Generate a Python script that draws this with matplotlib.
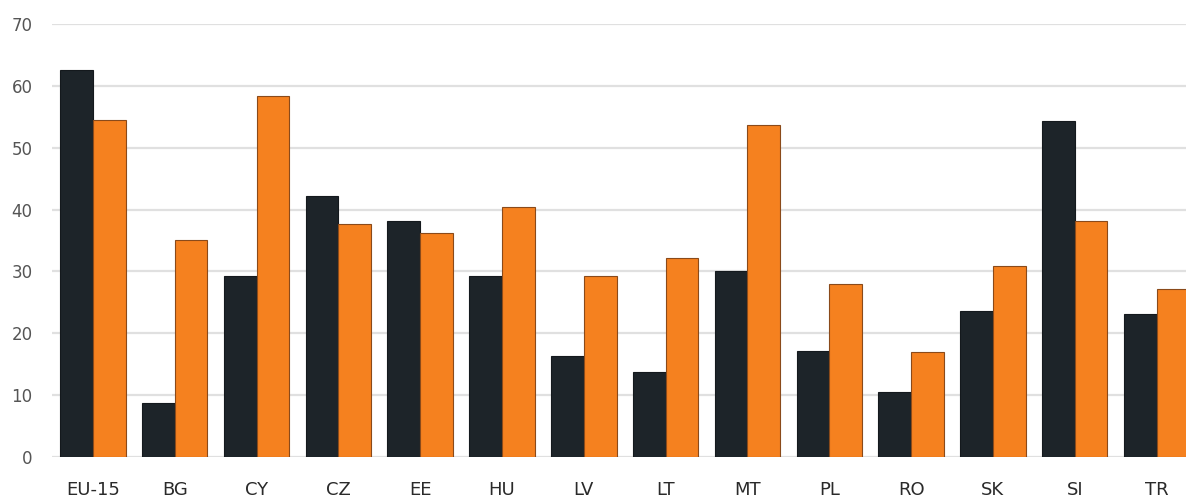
import numpy as np
import matplotlib
matplotlib.use('Agg')
import matplotlib.pyplot as plt

countries = ['EU-15', 'BG', 'CY', 'CZ', 'EE', 'HU', 'LV', 'LT', 'MT', 'PL', 'RO', 'SK', 'SI', 'TR']
series_dark = [62.5, 8.8, 29.2, 42.2, 38.2, 29.3, 16.3, 13.8, 30.1, 17.2, 10.5, 23.6, 54.3, 23.1]
series_orange = [54.5, 35.0, 58.3, 37.6, 36.2, 40.4, 29.2, 32.1, 53.7, 28.0, 17.0, 30.9, 38.2, 27.1]
y_ticks = [0, 10, 20, 30, 40, 50, 60, 70]

DARK = '#1d2429'
ORANGE = '#f5811f'
BAR_W = 0.4

plt.rcParams['font.family'] = ['DejaVu Sans']

fig = plt.figure(figsize=(11.86, 4.98), dpi=100)
ax = fig.add_axes([0.0438, 0.0823, 0.9562, 0.8697])

x = np.arange(len(countries))
ax.bar(x - BAR_W / 2, series_dark, width=BAR_W, color=DARK,
       edgecolor='#14191d', linewidth=0.8, zorder=3)
ax.bar(x + BAR_W / 2, series_orange, width=BAR_W, color=ORANGE,
       edgecolor='#8a4a1a', linewidth=0.8, zorder=3)

ax.set_xlim(-0.5, 13.36)
ax.set_ylim(0, 70)
ax.set_yticks(y_ticks)
ax.set_yticklabels([str(t) for t in y_ticks], fontsize=12, color='#555555')
ax.set_xticks(x)
ax.set_xticklabels(countries, fontsize=13, color='#2a2a2a')

ax.tick_params(axis='y', length=0, pad=14)
ax.tick_params(axis='x', length=0, pad=17)
ax.grid(axis='y', color='#e0e0e0', linewidth=1.6, zorder=0)
ax.set_axisbelow(True)
for side in ax.spines.values():
    side.set_visible(False)

fig.savefig('out.png', dpi=100, facecolor='white')
